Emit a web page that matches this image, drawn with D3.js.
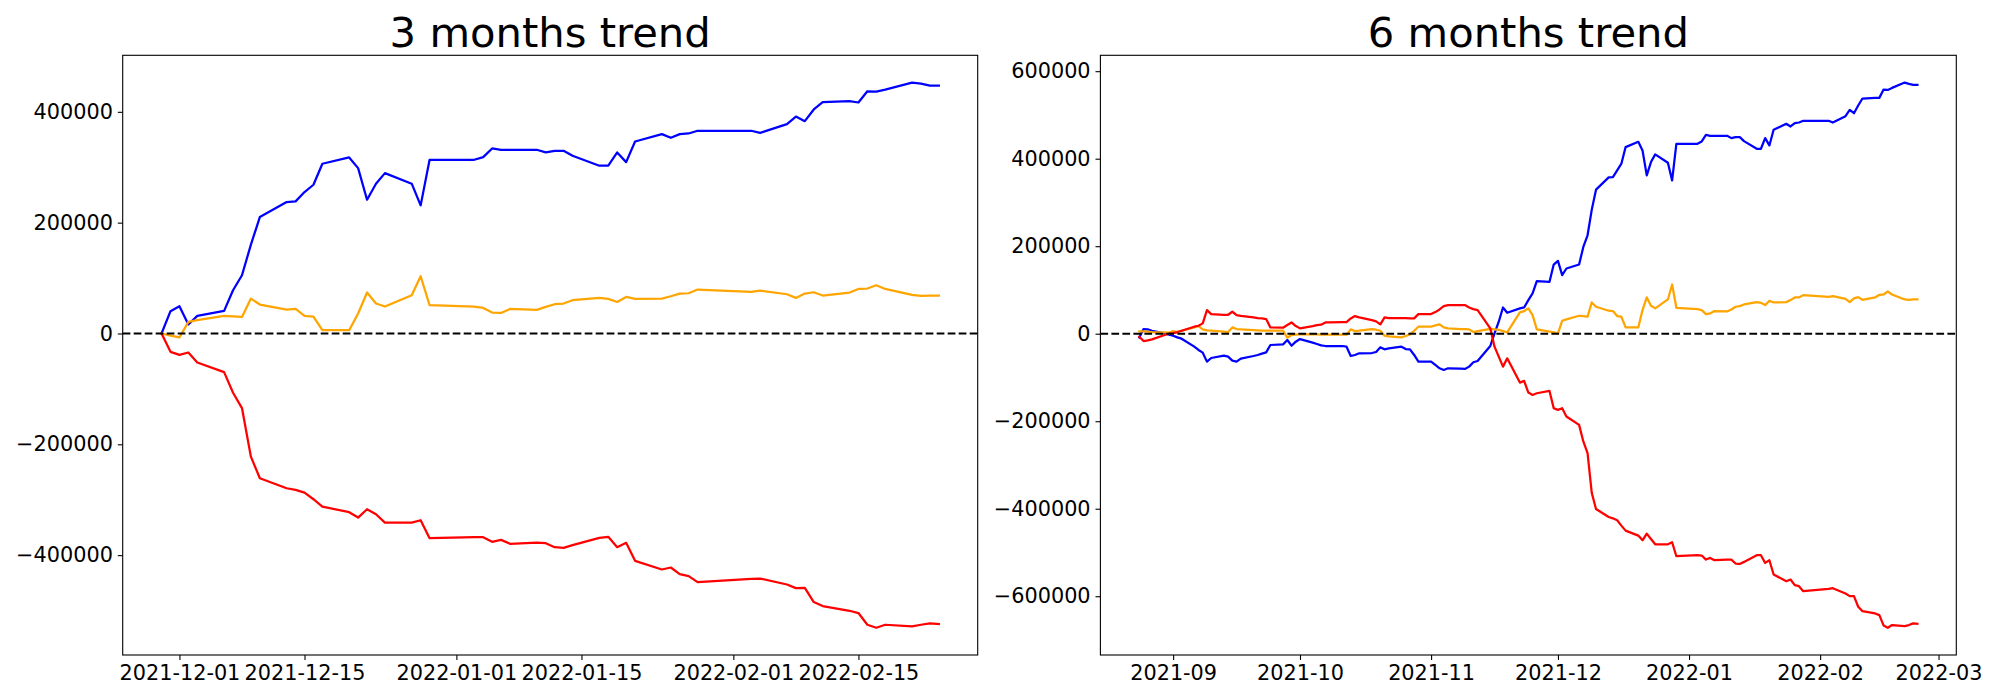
<!DOCTYPE html>
<html>
<head>
<meta charset="utf-8">
<script src="https://cdn.jsdelivr.net/npm/d3@7"></script>
<style>
  body { margin: 0; background: #ffffff; }
  svg { display: block; }
</style>
</head>
<body>
<svg id="chart" width="2000" height="700"></svg>
<script>
// ---------------- DATA: 3 months trend ----------------
const dates3m = [
  "2021-11-29","2021-11-30","2021-12-01","2021-12-02","2021-12-03",
  "2021-12-06","2021-12-07","2021-12-08","2021-12-09","2021-12-10",
  "2021-12-13","2021-12-14","2021-12-15","2021-12-16","2021-12-17",
  "2021-12-20","2021-12-21","2021-12-22","2021-12-23","2021-12-24",
  "2021-12-27","2021-12-28","2021-12-29",
  "2022-01-03","2022-01-04","2022-01-05","2022-01-06","2022-01-07",
  "2022-01-10","2022-01-11","2022-01-12","2022-01-13","2022-01-14",
  "2022-01-17","2022-01-18","2022-01-19","2022-01-20","2022-01-21",
  "2022-01-24","2022-01-25","2022-01-26","2022-01-27","2022-01-28",
  "2022-02-03","2022-02-04",
  "2022-02-07","2022-02-08","2022-02-09","2022-02-10","2022-02-11",
  "2022-02-14","2022-02-15","2022-02-16","2022-02-17","2022-02-18",
  "2022-02-21","2022-02-22","2022-02-23","2022-02-24"
];
const blue3m = [
  0, 40200, 49200, 16200, 31700,
  40800, 78000, 105000, 160300, 210100,
  237100, 238400, 255200, 268400, 306300,
  317700, 298400, 241400, 270300, 289400,
  270300, 231200, 313500,
  313500, 318200, 333900, 331500, 331500,
  331500, 326700, 329700, 329700, 320700,
  302700, 302700, 326700, 309200, 346500,
  359700, 353100, 359700, 360900, 365800,
  365800, 362100,
  377700, 391500, 383100, 404200, 417300,
  419100, 416800, 437100, 436600, 440200,
  452800, 451000, 447400, 447400
];
const orange3m = [
  0, -4000, -7200, 20900, 24000,
  31700, 30800, 29900, 63000, 52200,
  43200, 44300, 31700, 30600, 5900,
  5900, 36000, 73900, 54000, 48600,
  69000, 103200, 51000,
  48600, 46100, 37800, 37100, 44300,
  42500, 48000, 52800, 54000, 60000,
  64200, 62400, 56900, 65900, 62400,
  63000, 67200, 72000, 72600, 79300,
  75000, 77500,
  70800, 64200, 72000, 74400, 68500,
  73900, 80400, 81100, 87000, 80400,
  69600, 67800, 68500, 68500
];
const red3m = [
  0, -33100, -38500, -34300, -52300,
  -69700, -107000, -134600, -222300, -261300,
  -279300, -282300, -287200, -299100, -312400,
  -322500, -332200, -317100, -326100, -341300,
  -341300, -337000, -369400,
  -367600, -367600, -376000, -372400, -379600,
  -377300, -378400, -385600, -386800, -382000,
  -368800, -367000, -385600, -377800, -410300,
  -425900, -422300, -434200, -437800, -448600,
  -442700, -442200,
  -453000, -459500, -458900, -484700, -491900,
  -500400, -504500, -525600, -531000, -525600,
  -528600, -525600, -523200, -524300
];
const xTicks3m = ["2021-12-01","2021-12-15","2022-01-01","2022-01-15","2022-02-01","2022-02-15"];
const yTicks3m = [-400000, -200000, 0, 200000, 400000];

// ---------------- DATA: 6 months trend ----------------
const dates6m = [
  "2021-08-24","2021-08-25","2021-08-26","2021-08-27","2021-08-30","2021-08-31",
  "2021-09-01","2021-09-02","2021-09-03","2021-09-06","2021-09-07","2021-09-08","2021-09-09","2021-09-10",
  "2021-09-13","2021-09-14","2021-09-15","2021-09-16","2021-09-17","2021-09-20","2021-09-21","2021-09-22",
  "2021-09-23","2021-09-24","2021-09-27","2021-09-28","2021-09-29","2021-09-30",
  "2021-10-01","2021-10-04","2021-10-05","2021-10-06","2021-10-07","2021-10-08","2021-10-11","2021-10-12",
  "2021-10-13","2021-10-14","2021-10-15","2021-10-18","2021-10-19","2021-10-20","2021-10-21","2021-10-22",
  "2021-10-25","2021-10-26","2021-10-27","2021-10-28","2021-10-29",
  "2021-11-01","2021-11-02","2021-11-03","2021-11-04","2021-11-05","2021-11-08","2021-11-09","2021-11-10",
  "2021-11-11","2021-11-12","2021-11-15","2021-11-16","2021-11-17","2021-11-18","2021-11-19","2021-11-22",
  "2021-11-23","2021-11-24","2021-11-25","2021-11-26","2021-11-29","2021-11-30",
  "2021-12-01","2021-12-02","2021-12-03","2021-12-06","2021-12-07","2021-12-08","2021-12-09","2021-12-10",
  "2021-12-13","2021-12-14","2021-12-15","2021-12-16","2021-12-17","2021-12-20","2021-12-21","2021-12-22",
  "2021-12-23","2021-12-24","2021-12-27","2021-12-28","2021-12-29",
  "2022-01-03","2022-01-04","2022-01-05","2022-01-06","2022-01-07","2022-01-10","2022-01-11","2022-01-12",
  "2022-01-13","2022-01-14","2022-01-17","2022-01-18","2022-01-19","2022-01-20","2022-01-21","2022-01-24",
  "2022-01-25","2022-01-26","2022-01-27","2022-01-28",
  "2022-02-03","2022-02-04","2022-02-07","2022-02-08","2022-02-09","2022-02-10","2022-02-11","2022-02-14",
  "2022-02-15","2022-02-16","2022-02-17","2022-02-18","2022-02-21","2022-02-22","2022-02-23","2022-02-24"
];
const blue6m = [
  -8400, 10600, 9900, 6800, 800, -2300,
  -4600, -8400, -11400, -29600, -37200, -43300, -63800, -55500,
  -50200, -52400, -61600, -63800, -57000, -50900, -48600, -45600,
  -42600, -25800, -24300, -14400, -27400, -18200,
  -12200, -20500, -23600, -26600, -28100, -28100, -28100, -29600,
  -50900, -48600, -44800, -44100, -41800, -31200, -35700, -33400,
  -29600, -35000, -35700, -48600, -63800,
  -63800, -71400, -79000, -82800, -79000, -79800, -80600, -75200,
  -65300, -62300, -28100, 800, 27400, 60000, 47900, 57800,
  60000, 76800, 92000, 120100, 118600, 158100,
  166500, 133800, 149000, 158100, 198400, 225000, 283600, 329200,
  357300, 358000, 373300, 388500, 426500, 438600, 418900, 361900,
  392300, 409800, 390700, 350400, 434100,
  434100, 439400, 454600, 452300, 452300, 452300, 447000, 449300,
  449300, 440200, 422700, 422700, 447000, 430300, 466000, 479700,
  473600, 481200, 482700, 486600,
  486600, 482700, 497200, 511600, 504000, 521500, 537500, 539000,
  539000, 558000, 557200, 561800, 574000, 570900, 568600, 568600
];
const orange6m = [
  5300, 5300, 4600, 3800, 3000, 2300,
  6100, 3800, 6800, 14400, 17500, 9900, 7600, 6800,
  4600, 3800, 14400, 10600, 9900, 8400, 7600, 6800,
  6800, 6800, 6800, -9100, -3000, -2300,
  -1500, -1500, -1500, -2300, -2300, -2300, -2300, -2300,
  9900, 6100, 6800, 10600, 9100, 6800, -4600, -6100,
  -8400, -5300, -1500, 6800, 16000,
  16000, 19000, 21300, 14400, 12200, 10600, 10600, 9900,
  3800, 6100, 11000, 10000, 9000, 6000, 3000, 48700,
  51700, 57800, 42600, 9900, 4600, 3000,
  800, 29600, 32700, 41000, 40300, 38800, 71500, 61600,
  52500, 51700, 40300, 38800, 14400, 14400, 54000, 82900,
  63900, 57800, 78300, 112500, 59300,
  56300, 54000, 44900, 46400, 51700, 50900, 55500, 61600,
  63100, 66900, 72200, 70700, 65400, 75300, 71500, 72200,
  76800, 82900, 82900, 88200,
  84400, 85900, 79800, 72200, 80600, 83600, 77500, 82900,
  88900, 89700, 96500, 89700, 78300, 77500, 78300, 78300
];
const red6m = [
  -6800, -16700, -15200, -12900, -3000, 0,
  1500, 3800, 6800, 16000, 18200, 23600, 54000, 44800,
  43300, 43300, 50200, 42600, 41000, 37200, 35700, 35000,
  33400, 14400, 13700, 19800, 25800, 17500,
  12200, 17500, 19800, 20500, 25800, 25800, 26600, 26600,
  35000, 40300, 37200, 31200, 28100, 21300, 37200, 35700,
  35700, 35700, 35000, 35000, 44800,
  44800, 49400, 55500, 63100, 65400, 65400, 65400, 60000,
  56300, 54000, 12200, -29600, -52400, -75200, -56300, -111700,
  -107900, -134600, -139900, -136100, -130800, -170300,
  -174100, -170300, -189300, -208300, -246300, -272900, -364100, -400600,
  -418900, -421900, -426500, -438600, -450000, -461400, -472100, -456900,
  -469100, -481200, -481200, -476700, -508600,
  -506300, -507000, -516200, -512400, -517700, -516200, -516200, -525300,
  -526100, -521500, -506300, -506300, -523800, -517700, -550400, -565600,
  -561800, -574700, -577000, -588400,
  -583100, -581600, -593700, -599800, -599800, -624100, -634000, -639300,
  -643100, -666700, -672000, -665900, -668200, -665900, -662100, -662900
];
const xTicks6m = ["2021-09-01","2021-10-01","2021-11-01","2021-12-01","2022-01-01","2022-02-01","2022-03-01"];
const yTicks6m = [-600000, -400000, -200000, 0, 200000, 400000, 600000];

const seriesColors = ["blue", "orange", "red"];
const titles = ["3 months trend", "6 months trend"];

// ---------------- DRAWING ----------------
const svg = d3.select("#chart");
const parse = d3.utcParse("%Y-%m-%d");
const FONT = "'DejaVu Sans', sans-serif";
const TICK = 4.9, PAD = 4.9, LW = 2.25;

function panel(opt) {
  const { box, title, dates, series, xTicks, xFmt, yTicks } = opt;
  const ds = dates.map(parse);
  const [d0, d1] = d3.extent(ds);
  const span = d1 - d0;
  const x = d3.scaleUtc()
    .domain([new Date(+d0 - span * 0.05), new Date(+d1 + span * 0.05)])
    .range([box.left, box.right]);
  const all = series.flatMap(s => s.values);
  const [v0, v1] = d3.extent(all);
  const vs = v1 - v0;
  const y = d3.scaleLinear()
    .domain([v0 - vs * 0.05, v1 + vs * 0.05])
    .range([box.bottom, box.top]);

  const g = svg.append("g");

  // series lines
  const line = d3.line().x(d => x(d[0])).y(d => y(d[1]));
  series.forEach(s => {
    g.append("path")
      .datum(ds.map((d, i) => [d, s.values[i]]))
      .attr("d", line)
      .attr("fill", "none")
      .attr("stroke", s.color)
      .attr("stroke-width", LW)
      .attr("stroke-linejoin", "round")
      .attr("stroke-linecap", "square");
  });

  // zero dashed line
  g.append("line")
    .attr("x1", box.left).attr("x2", box.right)
    .attr("y1", y(0)).attr("y2", y(0))
    .attr("stroke", "#000").attr("stroke-width", 2.1)
    .attr("stroke-dasharray", "7.7,3.3");

  // frame
  g.append("rect")
    .attr("x", box.left).attr("y", box.top)
    .attr("width", box.right - box.left).attr("height", box.bottom - box.top)
    .attr("fill", "none").attr("stroke", "#000").attr("stroke-width", 1.1);

  // axes
  const xa = g.append("g").attr("transform", `translate(0,${box.bottom})`)
    .call(d3.axisBottom(x).tickValues(xTicks.map(parse)).tickFormat(xFmt)
      .tickSize(TICK).tickPadding(PAD).tickSizeOuter(0));
  const ya = g.append("g").attr("transform", `translate(${box.left},0)`)
    .call(d3.axisLeft(y).tickValues(yTicks).tickFormat(d3.format("d"))
      .tickSize(TICK).tickPadding(PAD).tickSizeOuter(0));
  [xa, ya].forEach(a => {
    a.select(".domain").remove();
    a.selectAll(".tick line").attr("stroke", "#000").attr("stroke-width", 1.1);
    a.selectAll(".tick text").attr("fill", "#000")
      .style("font-family", FONT).style("font-size", "20.8px");
  });

  // title
  g.append("text")
    .attr("x", (box.left + box.right) / 2)
    .attr("y", box.top - 8.3)
    .attr("text-anchor", "middle")
    .style("font-family", FONT)
    .style("font-size", "41.7px")
    .attr("fill", "#000")
    .text(title);
}

panel({
  box: { left: 122.7, right: 977.7, top: 55.3, bottom: 655 },
  title: titles[0],
  dates: dates3m,
  series: [
    { values: blue3m, color: seriesColors[0] },
    { values: orange3m, color: seriesColors[1] },
    { values: red3m, color: seriesColors[2] }
  ],
  xTicks: xTicks3m,
  xFmt: d3.utcFormat("%Y-%m-%d"),
  yTicks: yTicks3m
});

panel({
  box: { left: 1100.4, right: 1956.3, top: 55.3, bottom: 655 },
  title: titles[1],
  dates: dates6m,
  series: [
    { values: blue6m, color: seriesColors[0] },
    { values: orange6m, color: seriesColors[1] },
    { values: red6m, color: seriesColors[2] }
  ],
  xTicks: xTicks6m,
  xFmt: d3.utcFormat("%Y-%m"),
  yTicks: yTicks6m
});
</script>
</body>
</html>
